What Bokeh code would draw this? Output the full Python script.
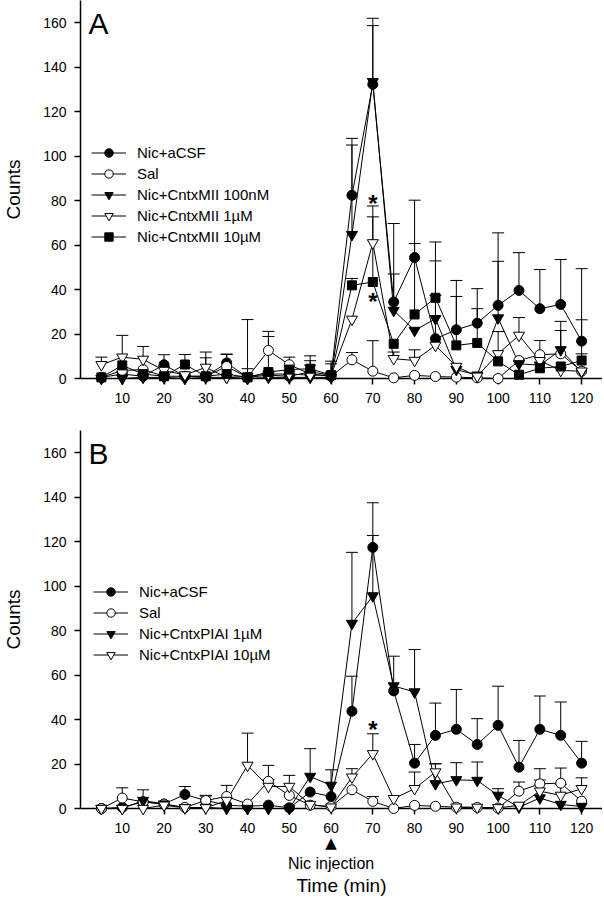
from bokeh.plotting import figure
from bokeh.models import (ColumnDataSource, Whisker, TeeHead, Legend, LegendItem,
                          Label, FixedTicker, Range1d, LinearAxis)
from bokeh.layouts import column
from bokeh.embed import file_html
from bokeh.resources import INLINE
from bokeh.core.properties import value

FONT = "Liberation Sans"

# ---------------- data ----------------
time_min = [5, 10, 15, 20, 25, 30, 35, 40, 45, 50, 55, 60,
            65, 70, 75, 80, 85, 90, 95, 100, 105, 110, 115, 120]
x_ticks = [10, 20, 30, 40, 50, 60, 70, 80, 90, 100, 110, 120]
y_ticks = [0, 20, 40, 60, 80, 100, 120, 140, 160]
injection_time = [60]

# Panel A
a_acsf = [0.5, 2, 1, 6.2, 1, 1, 7, 0.5, 1.5, 1, 3, 1.5,
          82.4, 132.3, 34.4, 54.4, 17.9, 21.9, 24.9, 32.9, 39.6, 31.4, 33.3, 16.8]
a_acsf_err = [0, 1, 1, 4.5, 1, 1, 3.8, 0, 1, 1, 3, 5.1,
              25.6, 29.7, 35.3, 25.8, 19.5, 22.2, 15.5, 32.6, 17, 17.6, 20.2, 32.6]
a_sal = [0.5, 3.6, 4, 1, 1, 1, 5.4, 0.5, 12.6, 6.2, 2, 1,
         8.4, 3.3, 0.3, 1.4, 0.9, 0.6, 0.3, 0, 8.1, 10.7, 11.1, 3.3]
a_sal_err = [0, 0, 0, 0, 0, 0, 0, 0, 8.6, 3.4, 6, 0,
             3.3, 13.7, 0, 0, 0, 0, 0, 0, 0, 6.4, 10.5, 7.8]
a_mii100 = [0, 0, 0.5, 0.5, 0, 0.5, 0.5, 0, 0.5, 0.5, 0.5, 0.5,
            64.7, 133.5, 30.6, 21.6, 26.9, 4, 1.5, 27.2, 6.6, 6, 12.9, 3]
a_mii100_err = [0, 0, 0, 0, 0, 0, 0, 0, 0, 0, 0, 0,
                40.3, 25.2, 16.4, 0, 26, 0, 0, 25.5, 0, 0, 12.8, 0]
a_mii1 = [6.2, 9.6, 8.6, 3.6, 1.6, 5, 0.5, 1, 2, 2, 1.5, 1.5,
          26.6, 61, 8.9, 8.1, 14.9, 5.4, 1, 11.1, 19.4, 8, 3.6, 3.3]
a_mii1_err = [3.4, 9.8, 5.8, 2, 0, 6.9, 0, 3.4, 0, 0, 0, 0,
              0, 16.6, 3, 4.8, 0, 0, 0, 10, 8, 0, 0, 0]
a_mii10 = [0.5, 5.9, 2, 1, 6.3, 1, 2, 0.5, 2.9, 4, 4.4, 1.5,
           41.9, 43.4, 15.6, 28.8, 36.3, 14.9, 16, 7.7, 1.7, 4.6, 5.4, 8.1]
a_mii10_err = [0, 0, 0, 0, 4.5, 8.3, 9, 26, 16, 0, 5.8, 6.3,
               3.1, 29.3, 0, 31.9, 25.1, 22, 15.4, 0, 0, 0, 0, 18.3]
a_star_x = [70, 70]
a_star_y = [81, 37]

# Panel B
b_acsf = [0, 0.5, 3, 2, 6.3, 3.6, 1.5, 1, 1.5, 0.3, 7.4, 5.4,
          43.7, 117.4, 52.9, 20.4, 32.9, 35.6, 28.8, 37.4, 18.6, 35.6, 32.9, 20.4]
b_acsf_err = [0, 0, 0, 0, 3.6, 2.3, 0, 0, 0, 0, 0, 0,
              15.8, 20.1, 0, 8.4, 14.5, 17.9, 11.6, 17.6, 12, 15, 15, 9.8]
b_sal = [0, 4.7, 3, 2, 0.5, 3.6, 5.4, 2, 12.2, 5.9, 1.5, 0.9,
         8.4, 3.2, 0, 1.4, 1, 0.6, 0.5, 0.2, 7.8, 11.1, 11.4, 3.3]
b_sal_err = [0, 4.6, 0, 0, 0, 2, 5, 0, 7.2, 0, 0, 0,
             0, 2.2, 0, 0, 0, 0, 0, 0, 4.1, 6.8, 6.8, 0]
b_piai1 = [0, 0, 3.6, 2, 0.3, 0.5, 0, 0, 0, 0, 14.4, 10.4,
           83.2, 95.6, 55.1, 52.4, 11.1, 12.9, 12.6, 5.9, 0.6, 4.7, 1.8, 0.9]
b_piai1_err = [0, 0, 4.8, 0, 0, 0, 0, 0, 0, 0, 12.5, 7,
               32, 27.2, 13.4, 19.1, 9, 7.7, 8.3, 3, 0, 0, 0, 0]
b_piai10 = [0, 0, 0, 1.5, 0.3, 0.3, 3.6, 19.4, 9.9, 9.9, 1.8, 0.6,
            14.1, 24.6, 4.4, 8.9, 16.4, 0.6, 0.5, 0.3, 1.4, 7.8, 5.9, 8.9]
b_piai10_err = [0, 0, 0, 0, 0, 0, 0, 14.5, 3, 5, 0, 0,
                3.8, 9, 0, 7.5, 3.7, 0, 0, 0, 0, 5, 5, 4.9]
b_star_x = [70]
b_star_y = [38]

# ---------------- styles ----------------
STYLE = {
    "acsf": dict(marker="circle", fill="black", size=10),
    "sal": dict(marker="circle", fill="white", size=10),
    "tri_f": dict(marker="inverted_triangle", fill="black", size=11),
    "tri_o": dict(marker="inverted_triangle", fill="white", size=11),
    "sq": dict(marker="square", fill="black", size=9),
}

series_a = [
    ("Nic+aCSF", a_acsf, a_acsf_err, "acsf"),
    ("Sal", a_sal, a_sal_err, "sal"),
    ("Nic+CntxMII 100nM", a_mii100, a_mii100_err, "tri_f"),
    ("Nic+CntxMII 1\u00b5M", a_mii1, a_mii1_err, "tri_o"),
    ("Nic+CntxMII 10\u00b5M", a_mii10, a_mii10_err, "sq"),
]
series_b = [
    ("Nic+aCSF", b_acsf, b_acsf_err, "acsf"),
    ("Sal", b_sal, b_sal_err, "sal"),
    ("Nic+CntxPIAI 1\u00b5M", b_piai1, b_piai1_err, "tri_f"),
    ("Nic+CntxPIAI 10\u00b5M", b_piai10, b_piai10_err, "tri_o"),
]

FRAME_H = 378
FIG_W = 602
BORDER_L = 77


def style_axis(ax, size="14px"):
    ax.axis_line_width = 1.5
    ax.axis_line_color = "black"
    ax.major_tick_line_width = 1.5
    ax.major_tick_line_color = "black"
    ax.major_tick_in = 0
    ax.major_tick_out = 6
    ax.minor_tick_line_color = None
    ax.major_label_text_font = FONT
    ax.major_label_text_font_size = size
    ax.major_label_text_color = "black"
    ax.major_label_standoff = 8
    ax.axis_label_text_font = FONT
    ax.axis_label_text_font_style = "normal"
    ax.axis_label_text_color = "black"
    ax.axis_label_text_font_size = "19px"


def build_panel(series, star_x, star_y, letter, fig_h, border_bottom, legend_xy):
    p = figure(width=FIG_W, height=fig_h, x_range=Range1d(0, 125), y_range=Range1d(0, 170),
               output_backend="svg", toolbar_location=None,
               min_border_left=BORDER_L, min_border_right=0, min_border_top=0,
               min_border_bottom=border_bottom)
    p.outline_line_color = None
    p.grid.visible = False
    style_axis(p.xaxis[0])
    style_axis(p.yaxis[0])
    p.xaxis.ticker = FixedTicker(ticks=x_ticks)
    p.yaxis.ticker = FixedTicker(ticks=y_ticks)
    p.yaxis.axis_label = "Counts"
    p.yaxis.axis_label_standoff = 16

    items = []
    for label, vals, errs, key in series:
        st = STYLE[key]
        src = ColumnDataSource(dict(x=time_min, y=vals))
        ex = [t for t, e in zip(time_min, errs) if e > 0]
        ey = [v for v, e in zip(vals, errs) if e > 0]
        eu = [v + e for v, e in zip(vals, errs) if e > 0]
        esrc = ColumnDataSource(dict(x=ex, y=ey, upper=eu))
        w = Whisker(source=esrc, base="x", lower="y", upper="upper", dimension="height",
                    line_color="black", line_width=1,
                    upper_head=TeeHead(size=12, line_color="black", line_width=1),
                    lower_head=None)
        p.add_layout(w)
        lr = p.line("x", "y", source=src, line_color="black", line_width=1)
        sr = p.scatter("x", "y", source=src, marker=st["marker"], size=st["size"],
                       fill_color=st["fill"], line_color="black", line_width=1)
        sr.level = "annotation"
        items.append(LegendItem(label=label, renderers=[lr, sr]))

    legend = Legend(items=items, location=legend_xy, border_line_color=None,
                    background_fill_alpha=0, padding=0, margin=0, spacing=0,
                    label_height=21, glyph_height=21, glyph_width=35,
                    label_standoff=11, label_text_font=FONT,
                    label_text_font_size="15px", label_text_color="black")
    p.add_layout(legend)

    p.text(x=star_x, y=star_y, text=["*"] * len(star_x), text_font=value(FONT),
           text_font_size="24px", text_font_style="bold", text_align="center",
           text_baseline="middle", text_color="black", y_offset=5)

    p.add_layout(Label(x=8, y=FRAME_H - 6, x_units="screen", y_units="screen",
                       text=letter, text_font=FONT, text_font_size="30px",
                       text_baseline="top", text_color="black"))
    return p


pA = build_panel(series_a, a_star_x, a_star_y, "A", FRAME_H + 52, 52, (11, 131))
pB = build_panel(series_b, b_star_x, b_star_y, "B", FRAME_H + 90, 90, (13, 143))

# extra axes below panel B: injection marker, its caption, and the axis title
ax_tri = LinearAxis(ticker=FixedTicker(ticks=injection_time),
                    major_label_overrides={injection_time[0]: "\u25b2"})
style_axis(ax_tri, size="15px")
ax_tri.major_label_text_font = "DejaVu Sans"
ax_tri.axis_line_color = None
ax_tri.major_tick_line_color = None
ax_tri.major_tick_out = 0
ax_tri.major_label_standoff = -2
pB.add_layout(ax_tri, "below")

ax_nic = LinearAxis(ticker=FixedTicker(ticks=injection_time),
                    major_label_overrides={injection_time[0]: "Nic injection"},
                    axis_label="Time (min)")
style_axis(ax_nic, size="16px")
ax_nic.axis_line_color = None
ax_nic.major_tick_line_color = None
ax_nic.major_tick_out = 0
ax_nic.major_label_standoff = 0
ax_nic.axis_label_standoff = 0
pB.add_layout(ax_nic, "below")

layout = column(pA, pB, spacing=0)
open("out.html", "w").write(file_html(layout, INLINE, title="Counts"))
